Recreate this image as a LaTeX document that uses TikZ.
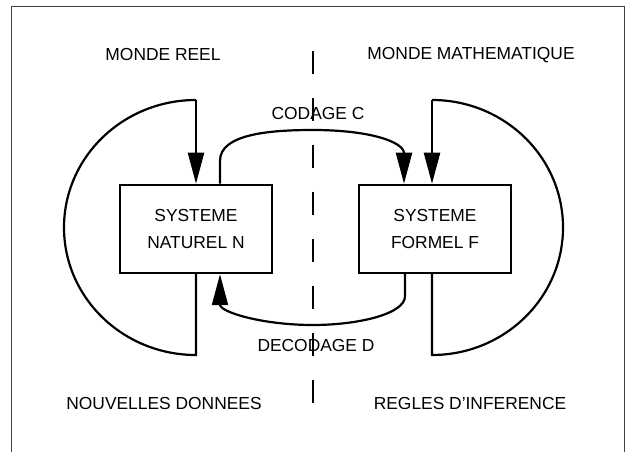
\documentclass[tikz,border=0pt]{standalone}
\usepackage{fontspec}
\setmainfont{Liberation Sans}
\usetikzlibrary{arrows.meta}
\begin{document}
\begin{tikzpicture}[x=1pt,y=1pt,
  sysbox/.style={draw,line width=2.5pt,minimum width=152pt,minimum height=88pt,
    align=center,font=\fontsize{17.4}{27}\selectfont,inner sep=0pt},
  lbl/.style={font=\fontsize{17.4}{20}\selectfont,inner sep=0pt},
  flow/.style={line width=2.2pt},
  tip/.style={-{Triangle[length=31pt,width=16pt]}},
  divider/.style={line width=2.5pt,dash pattern=on 23pt off 24pt}]
\useasboundingbox (0,0) rectangle (628,452);
% outer frame, open at the bottom
\draw[line width=1pt,black!75] (11,0) -- (11,445) -- (624,445) -- (624,0);

% the two systems
\node[sysbox] (N) at (196,223) {SYSTEME\\NATUREL N};
\node[sysbox] (F) at (435,223) {SYSTEME\\FORMEL F};

% headings
\node[lbl] (reel) at (163,397) {MONDE REEL};
\node[lbl] (math) at (471,397) {MONDE MATHEMATIQUE};
\node[lbl] (nouv) at (164,48) {NOUVELLES DONNEES};
\node[lbl] (regl) at (470,48) {REGLES D\symbol{39}INFERENCE};
\node[lbl] (cod) at (318,338) {CODAGE C};
\node[lbl] (dec) at (316,106) {DECODAGE D};

% separation between the two worlds
\coordinate (sepTop) at (313,401);
\coordinate (sepBot) at (313,45);
\draw[divider] (sepTop) -- (sepBot);

% loop of the natural system
\coordinate (nTop) at (196,352);
\draw[flow,tip] (nTop) -- (N.north);
\draw[flow] (nTop) arc[start angle=90,end angle=270,x radius=132,y radius=127.5]
  -- (N.south);

% loop of the formal system
\coordinate (fTop) at (432,352);
\draw[flow,tip] (fTop) -- ([xshift=-3pt]F.north);
\draw[flow] (fTop) arc[start angle=90,end angle=-90,x radius=131,y radius=127.5]
  -- ([xshift=-3pt]F.south);

% coding N -> F
\draw[flow,tip] ([xshift=24pt]N.north) -- ++(0,23)
  .. controls (220,318) and (270,322) .. (313,322)
  .. controls (370,322) and (404,310) .. ([xshift=-31pt]F.north);

% decoding F -> N
\draw[flow,tip] ([xshift=-30pt]F.south) -- ++(0,-22)
  .. controls (405,138) and (358,127) .. (313,127)
  .. controls (262,127) and (220,140) .. ([xshift=24pt]N.south);
\end{tikzpicture}
\end{document}
